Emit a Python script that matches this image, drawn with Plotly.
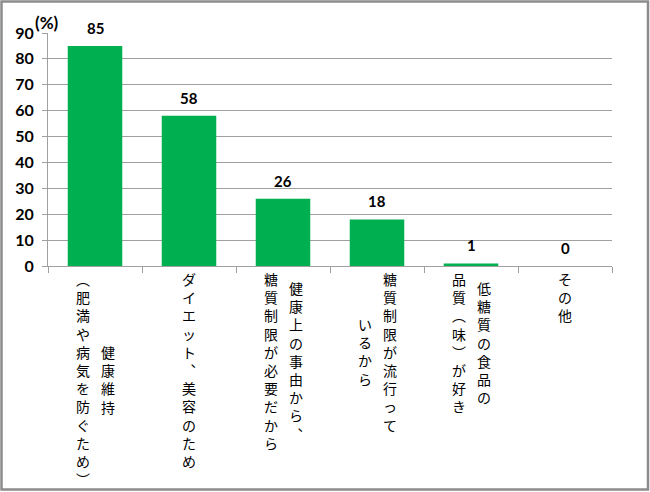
import plotly.graph_objects as go

categories = [
    "健康維持（肥満や病気を防ぐため）",
    "ダイエット、美容のため",
    "健康上の事由から、糖質制限が必要だから",
    "糖質制限が流行っているから",
    "低糖質の食品の品質（味）が好き",
    "その他",
]
# vertical label columns, right-to-left (as printed)
label_columns = [
    ["健康維持", "︵肥満や病気を防ぐため︶"],
    ["ダイエット︑美容のため"],
    ["健康上の事由から︑", "糖質制限が必要だから"],
    ["糖質制限が流行って", "いるから"],
    ["低糖質の食品の", "品質︵味︶が好き"],
    ["その他"],
]
values = [85, 58, 26, 18, 1, 0]
y_ticks = [0, 10, 20, 30, 40, 50, 60, 70, 80, 90]

W, H = 650, 492
L, R, T, B = 48, 612, 33, 266  # plot area in px
pw, ph = R - L, B - T

def px2paper_x(px):
    return (px - L) / pw

def px2paper_y(py):
    return (B - py) / ph

fig = go.Figure()
fig.add_trace(go.Bar(
    x=categories, y=values,
    marker=dict(color="#00B050", line=dict(width=0)),
    width=0.58,
    hoverinfo="skip",
))

annotations = []
# data labels
for c, v in zip(categories, values):
    annotations.append(dict(
        x=c, y=v, xref="x", yref="y", text=str(v), showarrow=False,
        yanchor="middle", yshift=18,
        font=dict(family="Lato", size=15, color="black", weight="bold"),
    ))

# vertical category labels: one annotation per column, one character per line
fs = 14
pitch = fs * 1.3
top = 270
col_gap = 25
for c, cols in zip(categories, label_columns):
    n = len(cols)
    maxlen = max(len(s) for s in cols)
    center_py = top + maxlen * pitch / 2
    for j, s in enumerate(cols):
        xs = ((n - 1) / 2 - j) * col_gap
        annotations.append(dict(
            x=c, xref="x", xshift=xs,
            y=px2paper_y(center_py), yref="paper",
            text="<br>".join(s), showarrow=False,
            xanchor="center", yanchor="middle", align="center",
            borderpad=0,
            font=dict(family="Noto Sans CJK JP", size=fs, color="black"),
        ))

annotations.append(dict(
    x=px2paper_x(46.5), y=px2paper_y(22.5), xref="paper", yref="paper",
    text="(%)", showarrow=False, xanchor="center", yanchor="middle",
    font=dict(family="Lato", size=17, color="black", weight="bold"),
))

fig.update_layout(
    width=W, height=H,
    margin=dict(l=L, r=W - R, t=T, b=H - B, pad=0),
    plot_bgcolor="white", paper_bgcolor="white",
    showlegend=False,
    bargap=0.42,
    annotations=annotations,
    shapes=[dict(
        type="rect", xref="paper", yref="paper",
        x0=px2paper_x(1.5), x1=px2paper_x(648), y0=px2paper_y(489.5), y1=px2paper_y(1.5),
        line=dict(color="#8c8c8c", width=2.5), fillcolor="rgba(0,0,0,0)", layer="above",
    )],
    xaxis=dict(
        type="category", showticklabels=False,
        ticks="outside", ticklen=6, tickcolor="#a0a0a0", tickson="boundaries",
        showline=True, linecolor="#a0a0a0", linewidth=1,
        showgrid=False, zeroline=False, fixedrange=True,
    ),
    yaxis=dict(
        range=[0, 90], tickvals=y_ticks,
        ticks="outside", ticklen=5, tickcolor="#a0a0a0",
        showline=True, linecolor="#a0a0a0", linewidth=1,
        showgrid=True, gridcolor="#a0a0a0", gridwidth=1,
        zeroline=False, ticklabelstandoff=5,
        tickfont=dict(family="Lato", size=16, color="black", weight="bold"),
        fixedrange=True,
    ),
)

fig.write_html("out.html")
